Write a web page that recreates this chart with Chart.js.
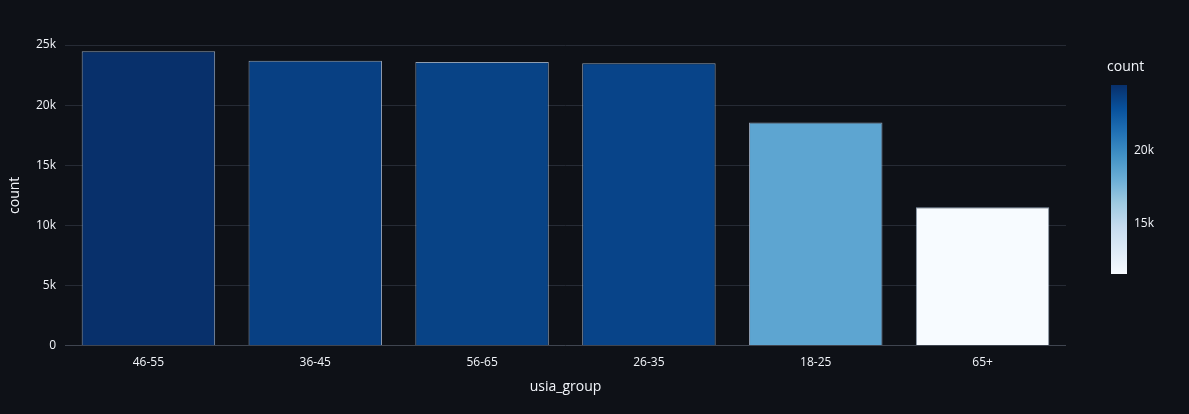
<!DOCTYPE html>
<html>
<head>
<meta charset="utf-8">
<script src="https://cdn.jsdelivr.net/npm/chart.js@4/dist/chart.umd.min.js"></script>
<style>
    html, body { margin: 0; padding: 0; background: #0e1117; }
    #wrap { width: 1189px; height: 414px; position: relative; }
</style>
</head>
<body>
<div id="wrap"><canvas id="barChart"></canvas></div>
<script>
var groups = ['46-55', '36-45', '56-65', '26-35', '18-25', '65+'];
var counts = [24490, 23690, 23580, 23490, 18550, 11510];
var yTicks = [0, 5000, 10000, 15000, 20000, 25000];
var colorbarTicks = [15000, 20000];

// plotly "Blues" colorscale
var blues = [
    [0, [247, 251, 255]], [0.125, [222, 235, 247]], [0.25, [198, 219, 239]],
    [0.375, [158, 202, 225]], [0.5, [107, 174, 214]], [0.625, [66, 146, 198]],
    [0.75, [33, 113, 181]], [0.875, [8, 81, 156]], [1, [8, 48, 107]]
];

var cmin = Math.min.apply(null, counts);
var cmax = Math.max.apply(null, counts);

function blueColor(t) {
    for (var i = 1; i < blues.length; ++i) {
        if (t <= blues[i][0]) {
            var a = blues[i - 1], b = blues[i];
            var f = (t - a[0]) / (b[0] - a[0]);
            var c = [];
            for (var j = 0; j < 3; ++j) {
                c.push(Math.round(a[1][j] + (b[1][j] - a[1][j]) * f));
            }
            return 'rgb(' + c.join(',') + ')';
        }
    }
    return 'rgb(8,48,107)';
}

function kLabel(v) {
    return v === 0 ? '0' : (v / 1000) + 'k';
}

var barColors = counts.map(function (v) {
    return blueColor((v - cmin) / (cmax - cmin));
});

var textColor = '#f2f5fa';
var font = "'Open Sans', 'Noto Sans', sans-serif";

var colorbarPlugin = {
    id: 'colorbar',
    afterDraw: function (chart) {
        var ctx = chart.ctx;
        var left = 1111, width = 16, top = 85, bottom = 274;
        var grad = ctx.createLinearGradient(0, bottom, 0, top);
        blues.forEach(function (stop) {
            grad.addColorStop(stop[0], 'rgb(' + stop[1].join(',') + ')');
        });
        ctx.save();
        ctx.fillStyle = grad;
        ctx.fillRect(left, top, width, bottom - top);

        ctx.fillStyle = textColor;
        ctx.font = '12px ' + font;
        ctx.textAlign = 'left';
        ctx.textBaseline = 'middle';
        colorbarTicks.forEach(function (v) {
            var y = bottom - (v - cmin) / (cmax - cmin) * (bottom - top);
            ctx.fillText(kLabel(v), left + width + 7, y);
        });

        ctx.font = '14px ' + font;
        ctx.fillText('count', 1107, 67);
        ctx.restore();
    }
};

var chart = new Chart(document.getElementById('barChart'), {
    type: 'bar',
    data: {
        labels: groups,
        datasets: [{
            data: counts,
            backgroundColor: barColors,
            borderColor: 'rgba(175,192,215,0.8)',
            borderWidth: 1,
            barPercentage: 0.8,
            categoryPercentage: 1
        }]
    },
    options: {
        responsive: true,
        maintainAspectRatio: false,
        animation: false,
        layout: {
            padding: { top: 45, right: 123, bottom: 20, left: 0 }
        },
        plugins: {
            legend: { display: false },
            tooltip: { enabled: false }
        },
        scales: {
            x: {
                grid: { display: false, drawTicks: false },
                border: { display: false },
                ticks: { color: textColor, font: { family: font, size: 12 }, padding: 10 },
                title: {
                    display: true, text: 'usia_group', color: textColor,
                    font: { family: font, size: 14, lineHeight: 1 }, padding: { top: 0, bottom: 0 }
                }
            },
            y: {
                min: 0,
                max: 25000,
                afterBuildTicks: function (scale) {
                    scale.ticks = yTicks.map(function (v) { return { value: v }; });
                },
                afterFit: function (scale) { scale.width = 65; },
                grid: {
                    drawTicks: false,
                    color: function (c) { return c.tick && c.tick.value === 0 ? '#3f4550' : '#262b35'; },
                    lineWidth: 1
                },
                border: { display: false },
                ticks: {
                    color: textColor, font: { family: font, size: 12 }, padding: 9,
                    callback: function (v) { return kLabel(v); }
                },
                title: {
                    display: true, text: 'count', color: textColor,
                    font: { family: font, size: 14 }, padding: { top: 7, bottom: 0 }
                }
            }
        }
    },
    plugins: [colorbarPlugin]
});
</script>
</body>
</html>
